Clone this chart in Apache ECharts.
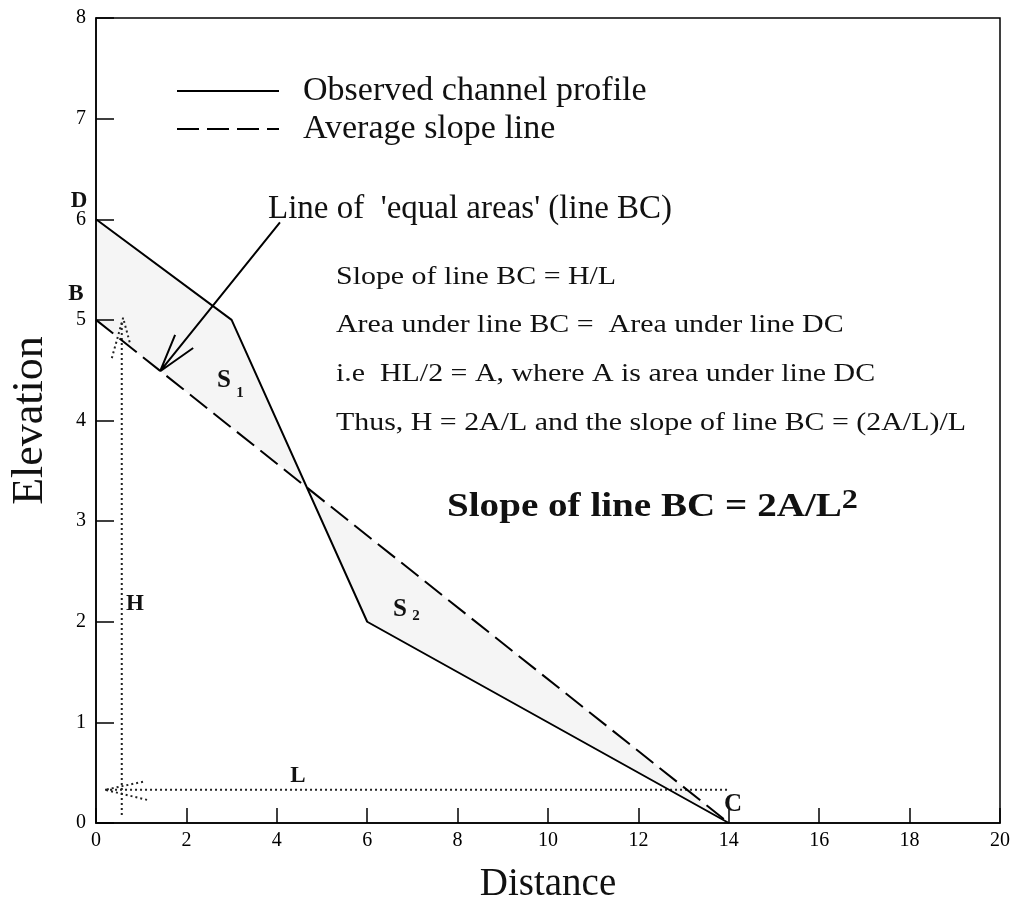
<!DOCTYPE html>
<html lang="en">

<head>
    <meta charset="UTF-8">
    <title>Channel profile slope</title>
    <script src="https://cdn.jsdelivr.net/npm/echarts@6/dist/echarts.min.js"></script>
    <style>
        * {
            padding: 0;
            margin: 0;
        }

        html,
        body {
            width: 100%;
            height: 100%;
            background: #fff;
        }

        #chart {
            width: 1016px;
            height: 920px;
        }
    </style>
</head>

<body>
    <div id="chart"></div>
</body>

</html>
<script>
    // observed channel profile, D -> C
    let profileX = [0, 3, 6, 14];
    let profileY = [6, 5, 2, 0];
    // average slope line, B -> C
    let slopeX = [0, 14];
    let slopeY = [5, 0];
    // dotted H and L guides
    let hLineX = [0.57, 0.57];
    let hLineY = [0.08, 5.0];
    let lLineX = [0.2, 14.0];
    let lLineY = [0.33, 0.33];
    // small dotted arrow heads on the guides
    let hHeadX = [0.35, 0.6, 0.75];
    let hHeadY = [4.62, 5.02, 4.77];
    let lHeadX = [1.04, 0.2, 1.13];
    let lHeadY = [0.41, 0.33, 0.23];
    // arrow from the 'equal areas' note down to line BC
    let arrowX = [4.07, 1.42, 1.75, 1.42, 2.15];
    let arrowY = [5.97, 4.49, 4.85, 4.49, 4.72];
    // axis ticks
    let xTicks = [0, 2, 4, 6, 8, 10, 12, 14, 16, 18, 20];
    let yTicks = [0, 1, 2, 3, 4, 5, 6, 7, 8];

    const serif = '"Liberation Serif", "Times New Roman", serif';

    function zip(xs, ys) {
        return xs.map((x, i) => [x, ys[i]]);
    }

    function slopeAt(x) {
        return slopeY[0] + (slopeY[1] - slopeY[0]) * (x - slopeX[0]) / (slopeX[1] - slopeX[0]);
    }

    // where the profile crosses the slope line -> splits S1 and S2
    let cross = null;
    for (let i = 0; i < profileX.length - 1; i++) {
        let d0 = profileY[i] - slopeAt(profileX[i]);
        let d1 = profileY[i + 1] - slopeAt(profileX[i + 1]);
        if (d0 > 0 && d1 < 0) {
            let t = d0 / (d0 - d1);
            let cx = profileX[i] + t * (profileX[i + 1] - profileX[i]);
            cross = [cx, slopeAt(cx)];
        }
    }
    let profile = zip(profileX, profileY);
    let shades = [
        profile.filter(p => p[0] < cross[0]).concat([cross, [slopeX[0], slopeY[0]]]),
        [cross].concat(profile.filter(p => p[0] > cross[0]))
    ];

    var myChart = echarts.init(document.getElementById('chart'));

    function note(text, x, y, size, bold, align, sx) {
        return {
            type: 'text',
            x: x,
            y: y,
            scaleX: sx || 1,
            z: 10,
            style: {
                text: text,
                fontFamily: serif,
                fontSize: size,
                fontWeight: bold ? 'bold' : 'normal',
                fill: '#111',
                textAlign: align || 'left',
                textVerticalAlign: 'middle'
            }
        };
    }

    let guide = {
        color: '#222',
        width: 2,
        type: [2, 3]
    };

    option = {
        animation: false,
        grid: {
            left: 96,
            right: 16,
            top: 18,
            bottom: 97,
            show: true,
            borderColor: '#000',
            borderWidth: 1.5
        },
        legend: {
            data: ['Observed channel profile', 'Average slope line'],
            orient: 'vertical',
            left: 176,
            top: 74,
            padding: 0,
            itemWidth: 102,
            itemHeight: 14,
            itemGap: 4,
            itemStyle: { opacity: 0 },
            textStyle: {
                fontFamily: serif,
                fontSize: 34,
                lineHeight: 30,
                color: '#111',
                padding: [0, 0, 0, 19]
            }
        },
        xAxis: {
            type: 'value',
            min: xTicks[0],
            max: xTicks[xTicks.length - 1],
            interval: xTicks[1] - xTicks[0],
            name: 'Distance',
            nameLocation: 'middle',
            nameGap: 42,
            nameTextStyle: { fontFamily: serif, fontSize: 39, color: '#111' },
            axisLine: { lineStyle: { color: '#000', width: 1.5 } },
            axisTick: { inside: true, length: 15, lineStyle: { color: '#000', width: 1.5 } },
            axisLabel: { fontFamily: serif, fontSize: 20, color: '#000', margin: 8 },
            splitLine: { show: false }
        },
        yAxis: {
            type: 'value',
            min: yTicks[0],
            max: yTicks[yTicks.length - 1],
            interval: yTicks[1] - yTicks[0],
            name: 'Elevation',
            nameLocation: 'middle',
            nameRotate: 90,
            nameGap: 44,
            nameTextStyle: { fontFamily: serif, fontSize: 44, color: '#111' },
            axisLine: { lineStyle: { color: '#000', width: 1.5 } },
            axisTick: { inside: true, length: 18, lineStyle: { color: '#000', width: 1.5 } },
            axisLabel: { fontFamily: serif, fontSize: 20, color: '#000', margin: 10 },
            splitLine: { show: false }
        },
        graphic: [
            note("Line of  'equal areas' (line BC)", 268, 209, 33, false),
            note('Slope of line BC = H/L', 336, 277, 26, false, 'left', 1.15),
            note('Area under line BC =  Area under line DC', 336, 325, 26, false, 'left', 1.15),
            note('i.e  HL/2 = A, where A is area under line DC', 336, 374, 26, false, 'left', 1.15),
            note('Thus, H = 2A/L and the slope of line BC = (2A/L)/L', 336, 423, 26, false, 'left', 1.15),
            {
                type: 'text',
                x: 447,
                y: 507,
                scaleX: 1.15,
                z: 10,
                style: {
                    text: '{m|Slope of line BC = 2A/L}{s|2}',
                    textVerticalAlign: 'middle',
                    fill: '#111',
                    rich: {
                        m: { fontFamily: serif, fontSize: 34, fontWeight: 'bold', lineHeight: 40 },
                        s: { fontFamily: serif, fontSize: 28, fontWeight: 'bold', lineHeight: 20, verticalAlign: 'top' }
                    }
                }
            },
            note('D', 79, 201, 23, true, 'center'),
            note('B', 76, 294, 23, true, 'center'),
            note('H', 135, 604, 23, true, 'center'),
            note('L', 298, 776, 23, true, 'center'),
            note('C', 733, 805, 25, true, 'center'),
            note('S', 224, 381, 25, true, 'center'),
            note('1', 240, 393, 15, true, 'center'),
            note('S', 400, 610, 25, true, 'center'),
            note('2', 416, 616, 15, true, 'center')
        ],
        series: [
            {
                type: 'custom',
                name: 'shade',
                silent: true,
                z: 1,
                data: shades.map(s => s[0]),
                renderItem: function (params, api) {
                    let pts = shades[params.dataIndex].map(p => api.coord(p));
                    return {
                        type: 'polygon',
                        shape: { points: pts },
                        style: { fill: 'rgba(0,0,0,0.04)' }
                    };
                }
            },
            {
                type: 'line',
                name: 'Observed channel profile',
                data: profile,
                symbol: 'none',
                color: '#000',
                lineStyle: { color: '#000', width: 2 },
                z: 5
            },
            {
                type: 'line',
                name: 'Average slope line',
                data: zip(slopeX, slopeY),
                symbol: 'none',
                color: '#000',
                lineStyle: { color: '#000', width: 2, type: [22, 8] },
                z: 5
            },
            {
                type: 'line',
                name: 'arrow',
                data: zip(arrowX, arrowY),
                symbol: 'none',
                lineStyle: { color: '#000', width: 2 },
                z: 6
            },
            {
                type: 'line',
                name: 'H',
                data: zip(hLineX, hLineY),
                symbol: 'none',
                lineStyle: guide
            },
            {
                type: 'line',
                name: 'L',
                data: zip(lLineX, lLineY),
                symbol: 'none',
                lineStyle: guide
            },
            {
                type: 'line',
                name: 'H head',
                data: zip(hHeadX, hHeadY),
                symbol: 'none',
                lineStyle: guide
            },
            {
                type: 'line',
                name: 'L head',
                data: zip(lHeadX, lHeadY),
                symbol: 'none',
                lineStyle: guide
            }
        ]
    };
    myChart.setOption(option);
</script>
